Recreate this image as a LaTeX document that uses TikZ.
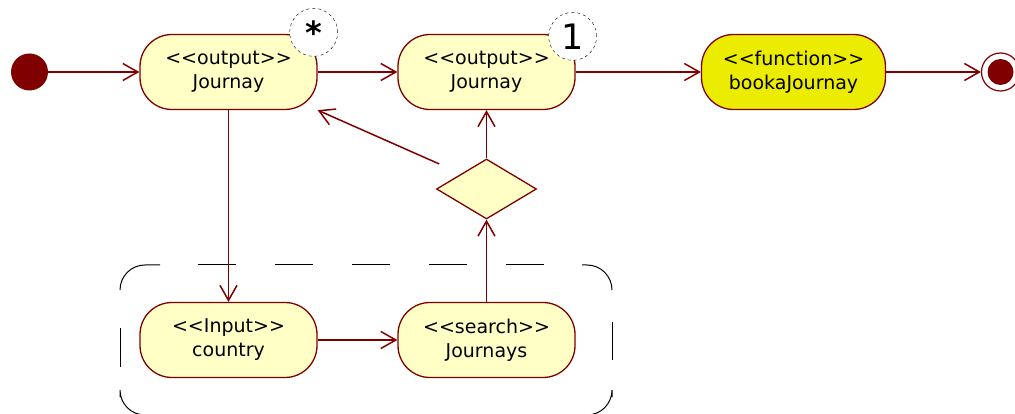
\documentclass[tikz,border=0pt]{standalone}
\usepackage{fontspec}
\newfontfamily\umlfont{DejaVu Sans}
\usetikzlibrary{positioning, shapes.geometric, arrows.meta}

\definecolor{umlred}{RGB}{128,0,0}
\definecolor{umlfill}{RGB}{255,255,198}
\definecolor{umlyellow}{RGB}{236,236,0}

\newcommand{\stereo}[1]{<\kern0pt<#1>\kern0pt>}

\begin{document}
\begin{tikzpicture}[node distance=258pt]

            \tikzset{
                action/.style = {rectangle, rounded corners=32pt, minimum width=177pt, minimum height=75pt, align=center, draw=umlred, line width=1.3pt, fill=umlfill, font=\umlfont\fontsize{19}{24}\selectfont},
                function/.style = {action, fill=umlyellow, minimum width=184pt},
                startdot/.style = {circle, fill=umlred, minimum size=37pt, inner sep=0pt},
                endring/.style = {circle, draw=umlred, fill=white, line width=1.2pt, minimum size=38pt, inner sep=0pt},
                choice/.style = {diamond, aspect=1.67, minimum width=100pt, minimum height=60pt, inner sep=0pt, draw=umlred, line width=1.3pt, fill=umlfill},
                multcircle/.style = {circle, draw=black, dashed, fill=white, minimum size=48pt, inner sep=0pt},
                arrow/.style = {line width=1.5pt, umlred, -{Straight Barb[length=15pt, width=17pt]}},
                regionline/.style = {draw=black, line width=1pt},
                regioncorner/.style = {regionline, rounded corners=25pt}
            }

            \useasboundingbox (0,0) rectangle (1015pt,-414pt);

            \node (start) [startdot] at (29.5pt,-72pt) {};
            \node (out1) [action, right of=start, node distance=199pt] {\stereo{output}\\Journay};
            \node (out2) [action, right of=out1] {\stereo{output}\\Journay};
            \node (book) [function, right of=out2, node distance=307pt] {\stereo{function}\\bookaJournay};
            \node (stop) [endring, right of=book, node distance=207pt] {};
            \node (stopdot) [startdot, minimum size=26pt] at (stop) {};
            \node (country) [action, below of=out1, node distance=268pt] {\stereo{Input}\\country};
            \node (search) [action, right of=country] {\stereo{search}\\Journays};
            \node (merge) [choice, above of=search, node distance=151pt] {};

            \node (many) [multcircle, font=\umlfont\bfseries\fontsize{32}{32}\selectfont] at ([xshift=-4pt, yshift=1.5pt]out1.north east) {*};
            \node (one) [multcircle, font=\umlfont\fontsize{35}{35}\selectfont] at ([xshift=-3pt, yshift=-2.5pt]out2.north east) {1};

            % dashed region round the input and search
            \draw [regioncorner] (120pt,-290pt) -- (120pt,-265pt) -- (160pt,-265pt);
            \draw [regioncorner] (582pt,-265pt) -- (612pt,-265pt) -- (612pt,-290pt);
            \draw [regioncorner] (612pt,-397pt) -- (612pt,-415pt) -- (590pt,-415pt);
            \draw [regioncorner] (140pt,-415pt) -- (120pt,-415pt) -- (120pt,-397pt);
            \draw [regionline, dash pattern=on 38pt off 39pt] (198pt,-265pt) -- (545pt,-265pt);
            \draw [regionline] (612pt,-322pt) -- (612pt,-360pt);
            \draw [regionline] (120pt,-328pt) -- (120pt,-367pt);

            \draw [arrow] (start) -- (out1);
            \draw [arrow] (out1) -- (out2);
            \draw [arrow] (out2) -- (book);
            \draw [arrow] (book) -- (stop);
            \draw [arrow] (out1) -- (country);
            \draw [arrow] (country) -- (search);
            \draw [arrow] (search) -- (merge);
            \draw [arrow] (merge) -- (out2);
            \draw [arrow, shorten <=24pt] (merge.north west) -- (out1.south east);
        \end{tikzpicture}
\end{document}
